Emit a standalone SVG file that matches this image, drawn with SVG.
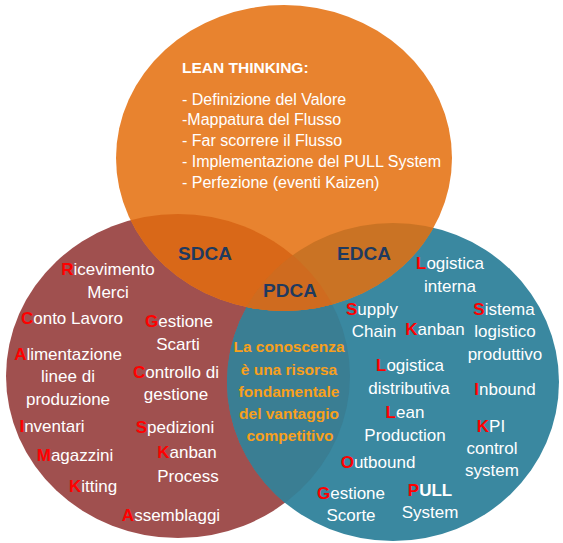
<svg xmlns="http://www.w3.org/2000/svg" width="563" height="543" viewBox="0 0 563 543">
<style>
text{font-family:"Liberation Sans",Arial,sans-serif;}
.w{fill:#ffffff;font-size:17px;text-anchor:middle;}
.r{fill:#ff0000;font-weight:bold;}
.top{fill:#ffffff;font-size:16px;}
.cyc{fill:#1f3a5f;font-size:19px;font-weight:bold;text-anchor:middle;}
.ctr{fill:#f8a01c;font-size:15.5px;font-weight:bold;text-anchor:middle;}
</style>
<defs>
<clipPath id="cR"><ellipse cx="178" cy="376" rx="172" ry="162"/></clipPath>
<clipPath id="cB"><ellipse cx="393" cy="382" rx="166" ry="159"/></clipPath>
</defs>
<rect width="563" height="543" fill="#ffffff"/>
<g id="circle-sdca-red">
<ellipse cx="178" cy="376" rx="172" ry="162" fill="#a0504f"/>
</g>
<g id="circle-edca-blue">
<ellipse cx="393" cy="382" rx="166" ry="159" fill="#3a88a0"/>
<ellipse cx="178" cy="376" rx="172" ry="162" fill="#3a7e93" clip-path="url(#cB)"/>
</g>
<g id="circle-lean-orange">
<ellipse cx="284" cy="158" rx="168" ry="153" fill="#e8832f"/>
<ellipse cx="284" cy="158" rx="168" ry="153" fill="#d96818" clip-path="url(#cR)"/>
<ellipse cx="284" cy="158" rx="168" ry="153" fill="#ca7324" clip-path="url(#cB)"/>
<g clip-path="url(#cR)"><ellipse cx="284" cy="158" rx="168" ry="153" fill="#cf6b1f" clip-path="url(#cB)"/></g>
</g>
<g id="lean-thinking">
<text x="182" y="73" fill="#ffffff" font-size="15.5" font-weight="bold">LEAN THINKING:</text>
<text class="top" x="182" y="105">- Definizione del Valore</text>
<text class="top" x="182" y="125">-Mappatura del Flusso</text>
<text class="top" x="182" y="146">- Far scorrere il Flusso</text>
<text class="top" x="182" y="167">- Implementazione del PULL System</text>
<text class="top" x="182" y="188">- Perfezione (eventi Kaizen)</text>
</g>
<g id="labels-cycles">
<text class="cyc" x="205" y="260">SDCA</text>
<text class="cyc" x="364" y="260">EDCA</text>
<text class="cyc" x="290" y="297">PDCA</text>
</g>
<g id="center-text">
<text class="ctr" x="289" y="352">La conoscenza</text>
<text class="ctr" x="289" y="375">è una risorsa</text>
<text class="ctr" x="289" y="397">fondamentale</text>
<text class="ctr" x="289" y="419">del vantaggio</text>
<text class="ctr" x="290" y="441">competitivo</text>
</g>
<g id="sdca-items">
<text class="w" x="108" y="275"><tspan class="r">R</tspan>icevimento</text>
<text class="w" x="108" y="298">Merci</text>
<text class="w" x="72" y="324"><tspan class="r">C</tspan>onto Lavoro</text>
<text class="w" x="179" y="327"><tspan class="r">G</tspan>estione</text>
<text class="w" x="178" y="350">Scarti</text>
<text class="w" x="68" y="360"><tspan class="r">A</tspan>limentazione</text>
<text class="w" x="68" y="382">linee di</text>
<text class="w" x="68" y="405">produzione</text>
<text class="w" x="176" y="378"><tspan class="r">C</tspan>ontrollo di</text>
<text class="w" x="176" y="400">gestione</text>
<text class="w" x="52" y="432"><tspan class="r">I</tspan>nventari</text>
<text class="w" x="175" y="433"><tspan class="r">S</tspan>pedizioni</text>
<text class="w" x="75" y="461"><tspan class="r">M</tspan>agazzini</text>
<text class="w" x="187" y="458"><tspan class="r">K</tspan>anban</text>
<text class="w" x="188" y="482">Process</text>
<text class="w" x="93" y="492"><tspan class="r">K</tspan>itting</text>
<text class="w" x="171" y="521"><tspan class="r">A</tspan>ssemblaggi</text>
</g>
<g id="edca-items">
<text class="w" x="450" y="269"><tspan class="r">L</tspan>ogistica</text>
<text class="w" x="450" y="292">interna</text>
<text class="w" x="372" y="315"><tspan class="r">S</tspan>upply</text>
<text class="w" x="374" y="337">Chain</text>
<text class="w" x="435" y="335"><tspan class="r">K</tspan>anban</text>
<text class="w" x="504" y="315"><tspan class="r">S</tspan>istema</text>
<text class="w" x="505" y="337">logistico</text>
<text class="w" x="505" y="360">produttivo</text>
<text class="w" x="410" y="371"><tspan class="r">L</tspan>ogistica</text>
<text class="w" x="409" y="394">distributiva</text>
<text class="w" x="505" y="395"><tspan class="r">I</tspan>nbound</text>
<text class="w" x="405" y="418"><tspan class="r">L</tspan>ean</text>
<text class="w" x="405" y="441">Production</text>
<text class="w" x="491" y="432"><tspan class="r">K</tspan>PI</text>
<text class="w" x="492" y="454">control</text>
<text class="w" x="492" y="476">system</text>
<text class="w" x="378" y="468"><tspan class="r">O</tspan>utbound</text>
<text class="w" x="351" y="499"><tspan class="r">G</tspan>estione</text>
<text class="w" x="351" y="521">Scorte</text>
<text class="w" x="430" y="496" font-weight="bold"><tspan class="r">P</tspan>ULL</text>
<text class="w" x="430" y="518">System</text>
</g>
</svg>
